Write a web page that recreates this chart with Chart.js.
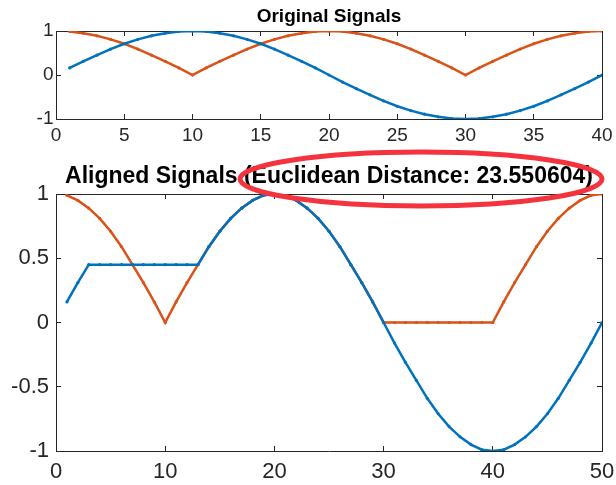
<!DOCTYPE html>
<html>
<head>
<meta charset="utf-8">
<script src="https://cdn.jsdelivr.net/npm/chart.js@4"></script>
<style>
  html, body { margin: 0; padding: 0; background: #fff; }
  #wrap { position: relative; width: 616px; height: 485px; }
  #wrap canvas { position: absolute; left: 0; }
  #alignedChart { top: 140px; }
  #originalChart { top: 0; }
</style>
</head>
<body>
<div id="wrap">
  <canvas id="alignedChart" width="616" height="345"></canvas>
  <canvas id="originalChart" width="616" height="150"></canvas>
</div>
<script>
// original signals, samples 1..40
const signalA = [0.16, 0.31, 0.45, 0.59, 0.71, 0.81, 0.89, 0.95, 0.99, 1.00,
                 0.99, 0.95, 0.89, 0.81, 0.71, 0.59, 0.45, 0.31, 0.16, 0.00,
                 -0.16, -0.31, -0.45, -0.59, -0.71, -0.81, -0.89, -0.95, -0.99, -1.00,
                 -0.99, -0.95, -0.89, -0.81, -0.71, -0.59, -0.45, -0.31, -0.16, 0.00];
const signalB = [0.99, 0.95, 0.89, 0.81, 0.71, 0.59, 0.45, 0.31, 0.16, 0.00,
                 0.16, 0.31, 0.45, 0.59, 0.71, 0.81, 0.89, 0.95, 0.99, 1.00,
                 0.99, 0.95, 0.89, 0.81, 0.71, 0.59, 0.45, 0.31, 0.16, 0.00,
                 0.16, 0.31, 0.45, 0.59, 0.71, 0.81, 0.89, 0.95, 0.99, 1.00];

// warped signals along the alignment path, steps 1..50
const alignedA = [0.16, 0.31, 0.45, 0.45, 0.45, 0.45, 0.45, 0.45, 0.45, 0.45,
                  0.45, 0.45, 0.45, 0.59, 0.71, 0.81, 0.89, 0.95, 0.99, 1.00,
                  0.99, 0.95, 0.89, 0.81, 0.71, 0.59, 0.45, 0.31, 0.16, 0.00,
                  -0.16, -0.31, -0.45, -0.59, -0.71, -0.81, -0.89, -0.95, -0.99, -1.00,
                  -0.99, -0.95, -0.89, -0.81, -0.71, -0.59, -0.45, -0.31, -0.16, 0.00];
const alignedB = [0.99, 0.95, 0.89, 0.81, 0.71, 0.59, 0.45, 0.31, 0.16, 0.00,
                  0.16, 0.31, 0.45, 0.59, 0.71, 0.81, 0.89, 0.95, 0.99, 1.00,
                  0.99, 0.95, 0.89, 0.81, 0.71, 0.59, 0.45, 0.31, 0.16, 0.00,
                  0.00, 0.00, 0.00, 0.00, 0.00, 0.00, 0.00, 0.00, 0.00, 0.00,
                  0.16, 0.31, 0.45, 0.59, 0.71, 0.81, 0.89, 0.95, 0.99, 1.00];

const euclidDist = '23.550604';

const FONT = "'Liberation Sans', Arial, Helvetica, sans-serif";
const AXIS = '#262626';
const BLUE = '#0072BD';
const ORANGE = '#D95319';

function steps(n) {
  return Array.from({ length: n }, (_, i) => i + 1);
}

function lineSet(label, ys, color) {
  const xs = steps(ys.length);
  return {
    label: label,
    data: xs.map((x, i) => ({ x: x, y: ys[i] })),
    borderColor: color,
    backgroundColor: color,
    borderWidth: 2.5,
    pointRadius: 1.6,
    pointBorderWidth: 0,
    pointHoverRadius: 0,
    tension: 0
  };
}

// one side of the axes box, ticks pointing inward like matlab
function edge(pos, min, max, step, tickOpts, size) {
  const horizontal = pos === 'top' || pos === 'bottom';
  return {
    type: 'linear',
    position: pos,
    min: min,
    max: max,
    border: { display: true, color: AXIS, width: 1 },
    grid: { drawOnChartArea: false, drawTicks: true, tickLength: -5, color: AXIS, lineWidth: 1 },
    ticks: Object.assign({
      stepSize: step, color: AXIS, maxRotation: 0, autoSkip: false,
      callback: (v) => String(Number(v))   // 1 not 1.0
    }, tickOpts),
    afterFit: function (scale) {
      if (horizontal) {
        scale.height = size;
        // end labels may hang past the box, keep the plot area fixed
        scale.paddingLeft = 0;
        scale.paddingRight = 0;
      } else {
        scale.width = size;
      }
    }
  };
}

function buildOptions(o) {
  return {
    responsive: false,
    animation: false,
    events: [],
    layout: { padding: { left: 0, right: 14, top: 0, bottom: 0 } },
    plugins: Object.assign({
      legend: { display: false },
      tooltip: { enabled: false },
      title: {
        display: true,
        text: o.title,
        fullSize: false,
        color: '#000',
        font: { family: FONT, size: o.titleSize, weight: 'bold', lineHeight: 1.2 },
        padding: o.titlePad
      }
    }, o.extra || {}),
    scales: {
      x: edge('bottom', 0, o.xMax, o.xStep, { font: { family: FONT, size: o.tickSize }, padding: o.xPad }, o.xHeight),
      y: edge('left', -1, 1, o.yStep, { font: { family: FONT, size: o.tickSize }, padding: o.yPad }, 56),
      x2: edge('top', 0, o.xMax, o.xStep, { display: false }, 0),
      y2: edge('right', -1, 1, o.yStep, { display: false }, 0)
    }
  };
}

// red ring drawn round the distance part of the title
const ringPlugin = {
  id: 'ring',
  afterDraw(chart, args, opts) {
    const ctx = chart.ctx;
    ctx.save();
    ctx.strokeStyle = opts.color;
    ctx.lineWidth = opts.width;
    ctx.beginPath();
    ctx.ellipse(opts.cx, opts.cy, opts.rx, opts.ry, opts.rot, 0, Math.PI * 2);
    ctx.stroke();
    ctx.restore();
  }
};

new Chart(document.getElementById('originalChart'), {
  type: 'line',
  data: { datasets: [lineSet('x', signalA, BLUE), lineSet('y', signalB, ORANGE)] },
  options: buildOptions({
    title: 'Original Signals',
    titleSize: 19,
    titlePad: { top: 5, bottom: 3.2 },
    tickSize: 19,
    xMax: 40, xStep: 5, yStep: 1,
    xPad: 10, yPad: 7.5, xHeight: 31
  })
});

new Chart(document.getElementById('alignedChart'), {
  type: 'line',
  data: { datasets: [lineSet('x aligned', alignedA, BLUE), lineSet('y aligned', alignedB, ORANGE)] },
  options: buildOptions({
    title: 'Aligned Signals (Euclidean Distance: ' + euclidDist + ')',
    titleSize: 23,
    titlePad: { top: 23.2, bottom: 3.2 },
    tickSize: 22,
    xMax: 50, xStep: 10, yStep: 0.5,
    xPad: 13, yPad: 12, xHeight: 34,
    extra: { ring: { color: '#f5333f', width: 5, cx: 421, cy: 39, rx: 181, ry: 27, rot: 0 } }
  }),
  plugins: [ringPlugin]
});
</script>
</body>
</html>
